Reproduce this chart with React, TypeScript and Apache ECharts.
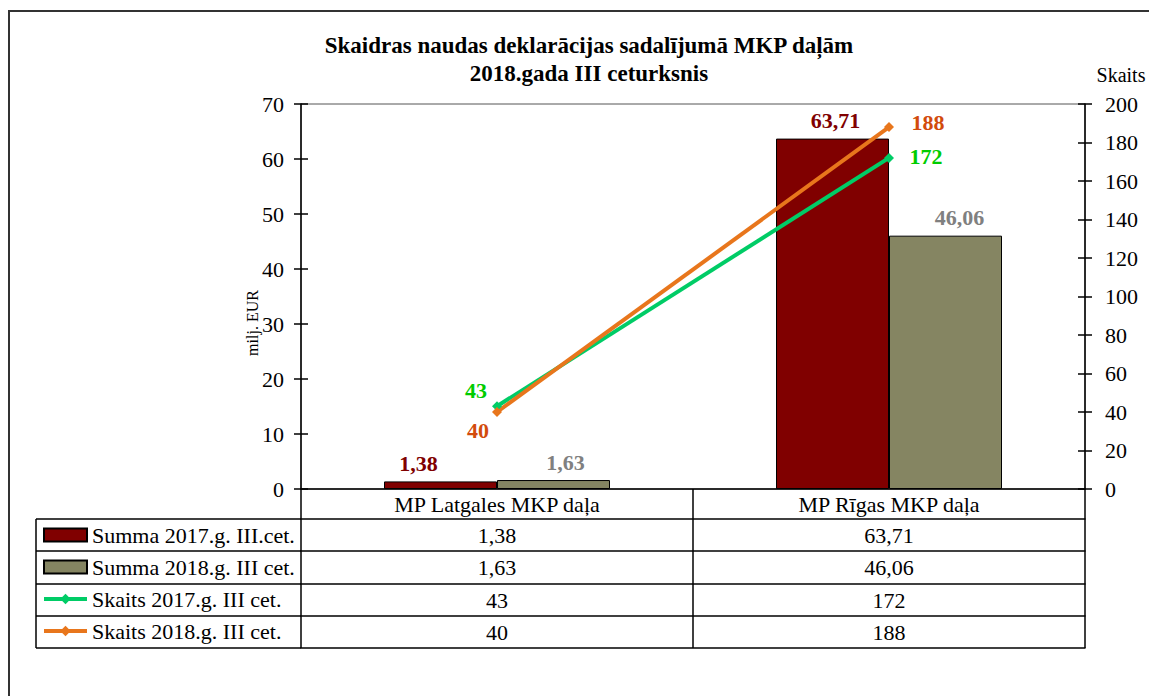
import React, { useEffect, useRef } from "react";
import * as echarts from "echarts";

const categories = ["MP Latgales MKP daļa", "MP Rīgas MKP daļa"];
const sum2017 = [1.38, 63.71];
const sum2018 = [1.63, 46.06];
const count2017 = [43, 172];
const count2018 = [40, 188];
const seriesNames = [
  "Summa 2017.g. III.cet.",
  "Summa 2018.g. III cet.",
  "Skaits 2017.g. III cet.",
  "Skaits 2018.g. III cet.",
];
const titleLines = ["Skaidras naudas deklarācijas sadalījumā MKP daļām", "2018.gada III ceturksnis"];
const leftAxis = { min: 0, max: 70, interval: 10, name: "milj. EUR" };
const rightAxis = { min: 0, max: 200, interval: 20, name: "Skaits" };

const FONT = "'Liberation Serif', 'Times New Roman', serif";
const fmt2 = (v: number) => v.toFixed(2).replace(".", ",");

export default function App() {
  const ref = useRef<HTMLDivElement>(null);
  useEffect(() => {
    document.body.style.margin = "0";
    const chart = echarts.init(ref.current!, null, { renderer: "svg" });

    const gridLeft = 301;
    const gridRight = 1085;
    const gridTop = 104;
    const gridBottom = 489;
    const tableLeft = 36;
    // row boundary offsets below the x axis
    const rowOffsets = [30, 62, 95, 127, 159];
    const rowValues = [
      sum2017.map(fmt2),
      sum2018.map(fmt2),
      count2017.map((v) => String(v)),
      count2018.map((v) => String(v)),
    ];

    const tableText = { fontFamily: FONT, fontSize: 22, color: "#000", lineHeight: 22 };
    const black = { color: "#000", width: 1.5 };

    const xAxes: any[] = [
      {
        type: "category",
        data: categories,
        position: "bottom",
        axisLine: { onZero: false, lineStyle: black },
        axisTick: { show: true, interval: 0, length: rowOffsets[0], lineStyle: black },
        axisLabel: { ...tableText, margin: 4, interval: 0 },
        splitLine: { show: false },
      },
    ];
    rowValues.forEach((vals, r) => {
      xAxes.push({
        type: "category",
        data: categories,
        position: "bottom",
        offset: rowOffsets[r],
        axisLine: { onZero: false, lineStyle: black },
        axisTick: {
          show: true,
          interval: 0,
          length: rowOffsets[r + 1] - rowOffsets[r],
          lineStyle: black,
        },
        axisLabel: {
          ...tableText,
          margin: 5,
          interval: 0,
          formatter: (_v: string, idx: number) => vals[idx],
        },
      });
    });
    xAxes.push({
      type: "category",
      data: categories,
      position: "bottom",
      offset: rowOffsets[rowOffsets.length - 1],
      axisLine: { onZero: false, lineStyle: black },
      axisTick: { show: false },
      axisLabel: { show: false },
    });

    const axisLabelStyle = { fontFamily: FONT, fontSize: 22, color: "#000" };
    const yAxes: any[] = [
      {
        type: "value",
        position: "left",
        min: leftAxis.min,
        max: leftAxis.max,
        interval: leftAxis.interval,
        axisLine: { show: true, lineStyle: black },
        axisTick: { show: true, length: 7, lineStyle: black },
        axisLabel: { ...axisLabelStyle, margin: 17 },
        splitLine: { show: false },
      },
      {
        type: "value",
        position: "right",
        min: rightAxis.min,
        max: rightAxis.max,
        interval: rightAxis.interval,
        axisLine: { show: true, lineStyle: black },
        axisTick: { show: true, length: 7, lineStyle: black },
        axisLabel: { ...axisLabelStyle, margin: 20 },
        splitLine: { show: false },
      },
      {
        type: "value",
        position: "left",
        min: leftAxis.min,
        max: leftAxis.max,
        interval: leftAxis.interval,
        axisLine: { show: false },
        axisTick: { show: true, inside: true, length: 7, lineStyle: black },
        axisLabel: { show: false },
        splitLine: { show: false },
      },
      {
        type: "value",
        position: "right",
        min: rightAxis.min,
        max: rightAxis.max,
        interval: rightAxis.interval,
        axisLine: { show: false },
        axisTick: { show: true, inside: true, length: 7, lineStyle: black },
        axisLabel: { show: false },
        splitLine: { show: false },
      },
    ];

    const barLabel = (color: string) => ({
      show: true,
      position: "top",
      distance: 7,
      fontFamily: FONT,
      fontSize: 22,
      fontWeight: "bold",
      color,
      formatter: (p: any) => fmt2(p.value),
    });
    const bar1Offsets = [[-22, 0], [3, 0]];
    const bar2Offsets = [[12, 0], [14, 0]];
    const line1Offsets = [[-21, -16], [37, -1]];
    const line2Offsets = [[-19, 18], [39, -5]];
    const lineLabel = (color: string) => ({
      show: true,
      position: "inside",
      fontFamily: FONT,
      fontSize: 22,
      fontWeight: "bold",
      color,
    });

    const legendRowLines: any[] = [];
    rowOffsets.forEach((off) => {
      legendRowLines.push({
        type: "line",
        shape: { x1: tableLeft, y1: gridBottom + off, x2: gridLeft, y2: gridBottom + off },
        style: { stroke: "#000", lineWidth: 1.5 },
        silent: true,
      });
    });
    legendRowLines.push({
      type: "line",
      shape: {
        x1: tableLeft,
        y1: gridBottom + rowOffsets[0],
        x2: tableLeft,
        y2: gridBottom + rowOffsets[rowOffsets.length - 1],
      },
      style: { stroke: "#000", lineWidth: 1.5 },
      silent: true,
    });

    chart.setOption({
      animation: false,
      backgroundColor: "#fff",
      grid: {
        left: gridLeft,
        right: 1149 - gridRight,
        top: gridTop,
        bottom: 696 - gridBottom,
        show: true,
        borderColor: "#555",
        borderWidth: 1,
        backgroundColor: "#fff",
      },
      legend: {
        orient: "vertical",
        left: 42,
        top: 524,
        padding: 0,
        itemWidth: 43,
        itemHeight: 13,
        itemGap: 10,
        selectedMode: false,
        lineStyle: { width: 4 },
        textStyle: { fontFamily: FONT, fontSize: 22, color: "#000", lineHeight: 22 },
        data: [
          { name: seriesNames[0], icon: "rect" },
          { name: seriesNames[1], icon: "rect" },
          { name: seriesNames[2] },
          { name: seriesNames[3] },
        ],
      },
      xAxis: xAxes,
      yAxis: yAxes,
      series: [
        {
          name: seriesNames[0],
          type: "bar",
          xAxisIndex: 0,
          yAxisIndex: 0,
          barWidth: 113,
          barGap: "0%",
          itemStyle: { color: "#800000", borderColor: "#000", borderWidth: 1 },
          label: barLabel("#800000"),
          data: sum2017.map((v, i) => ({ value: v, label: { offset: bar1Offsets[i] } })),
        },
        {
          name: seriesNames[1],
          type: "bar",
          xAxisIndex: 0,
          yAxisIndex: 0,
          barWidth: 113,
          barGap: "0%",
          itemStyle: { color: "#858562", borderColor: "#000", borderWidth: 1 },
          label: barLabel("#808080"),
          data: sum2018.map((v, i) => ({ value: v, label: { offset: bar2Offsets[i] } })),
        },
        {
          name: seriesNames[2],
          type: "line",
          xAxisIndex: 0,
          yAxisIndex: 1,
          symbol: "diamond",
          symbolSize: 10,
          itemStyle: { color: "#00CC66" },
          lineStyle: { color: "#00CC66", width: 4 },
          label: lineLabel("#00CC00"),
          data: count2017.map((v, i) => ({ value: v, label: { offset: line1Offsets[i] } })),
        },
        {
          name: seriesNames[3],
          type: "line",
          xAxisIndex: 0,
          yAxisIndex: 1,
          symbol: "diamond",
          symbolSize: 10,
          itemStyle: { color: "#E8761C" },
          lineStyle: { color: "#E8761C", width: 4 },
          label: lineLabel("#D24B0C"),
          data: count2018.map((v, i) => ({ value: v, label: { offset: line2Offsets[i] } })),
        },
      ],
      graphic: [
        {
          type: "rect",
          shape: { x: 9, y: 11, width: 1300, height: 900 },
          style: { fill: "none", stroke: "#333", lineWidth: 2 },
          silent: true,
          z: 100,
        },
        {
          type: "text",
          x: 589,
          y: 45,
          style: {
            text: titleLines[0],
            fontFamily: FONT,
            fontSize: 23,
            fontWeight: "bold",
            fill: "#000",
            textAlign: "center",
            textVerticalAlign: "middle",
          },
        },
        {
          type: "text",
          x: 589,
          y: 73,
          style: {
            text: titleLines[1],
            fontFamily: FONT,
            fontSize: 23,
            fontWeight: "bold",
            fill: "#000",
            textAlign: "center",
            textVerticalAlign: "middle",
          },
        },
        {
          type: "text",
          x: 1121,
          y: 75,
          style: {
            text: rightAxis.name,
            fontFamily: FONT,
            fontSize: 20,
            fill: "#000",
            textAlign: "center",
            textVerticalAlign: "middle",
          },
        },
        {
          type: "text",
          x: 252,
          y: 323,
          rotation: Math.PI / 2,
          style: {
            text: leftAxis.name,
            fontFamily: FONT,
            fontSize: 16,
            fill: "#000",
            textAlign: "center",
            textVerticalAlign: "middle",
          },
        },
        ...legendRowLines,
      ],
    });
    return () => chart.dispose();
  }, []);
  return <div ref={ref} style={{ width: 1149, height: 696 }} />;
}
